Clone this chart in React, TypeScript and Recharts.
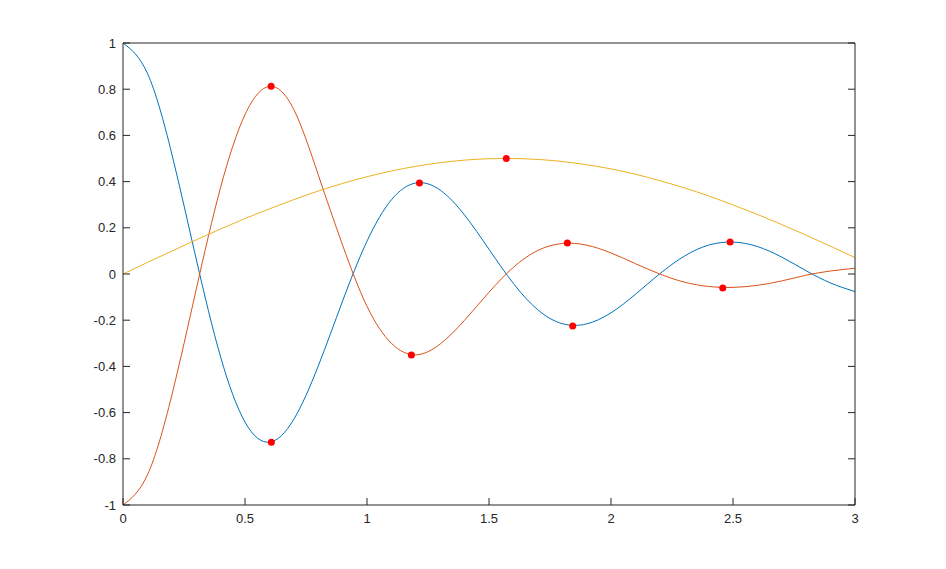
import React from "react";
import {
  ComposedChart,
  Line,
  Scatter,
  XAxis,
  YAxis,
} from "recharts";

// sample positions along x (read every 0.1)
const xs = [
  0, 0.1, 0.2, 0.3, 0.4, 0.5, 0.6, 0.7, 0.8, 0.9, 1.0, 1.1, 1.2, 1.3, 1.4, 1.5,
  1.6, 1.7, 1.8, 1.9, 2.0, 2.1, 2.2, 2.3, 2.4, 2.5, 2.6, 2.7, 2.8, 2.9, 3.0,
];

const blueY = [
  1.0, 0.869, 0.52, 0.065, -0.359, -0.641, -0.728, -0.629, -0.399, -0.117,
  0.142, 0.321, 0.394, 0.363, 0.255, 0.107, -0.041, -0.155, -0.215, -0.216,
  -0.168, -0.088, 0.001, 0.077, 0.125, 0.138, 0.119, 0.073, 0.014, -0.039,
  -0.076,
];

const orangeY = [
  -1.0, -0.87, -0.525, -0.067, 0.375, 0.69, 0.812, 0.712, 0.43, 0.125, -0.14,
  -0.3, -0.35, -0.303, -0.2, -0.079, 0.029, 0.102, 0.132, 0.125, 0.091, 0.045,
  0.0, -0.035, -0.054, -0.058, -0.049, -0.03, -0.005, 0.013, 0.025,
];

const yellowY = [
  0, 0.05, 0.099, 0.148, 0.195, 0.24, 0.282, 0.322, 0.359, 0.392, 0.421, 0.446,
  0.466, 0.482, 0.493, 0.499, 0.5, 0.496, 0.487, 0.473, 0.455, 0.432, 0.404,
  0.373, 0.338, 0.299, 0.258, 0.214, 0.168, 0.12, 0.071,
];

// red extremum markers
const markerX = [0.608, 1.215, 1.843, 2.488, 0.607, 1.182, 1.821, 2.458, 1.571];
const markerY = [-0.728, 0.394, -0.225, 0.138, 0.813, -0.351, 0.134, -0.061, 0.5];

const xTicks = [0, 0.5, 1, 1.5, 2, 2.5, 3];
const yTicks = [-1, -0.8, -0.6, -0.4, -0.2, 0, 0.2, 0.4, 0.6, 0.8, 1];

const toSeries = (ys: number[]) => xs.map((x, i) => ({ x, y: ys[i] }));
const markers = markerX.map((x, i) => ({ x, y: markerY[i] }));

const axisColor = "#262626";
const fontFamily = "'Liberation Sans', Arial, sans-serif";
const TICK_LEN = 7;
const X_GAP = 9;
const Y_GAP = 7;

// bottom label plus an inward tick mark going up from the axis
const BottomTick = (props: any) => {
  const { x, y, payload } = props;
  const axisY = y - X_GAP;
  return (
    <g>
      <line x1={x} y1={axisY} x2={x} y2={axisY - TICK_LEN} stroke={axisColor} />
      <text
        x={x}
        y={y}
        dy="0.71em"
        textAnchor="middle"
        fill={axisColor}
        fontSize={13}
        fontFamily={fontFamily}
      >
        {String(payload.value)}
      </text>
    </g>
  );
};

// left label plus an inward tick mark going right from the axis
const LeftTick = (props: any) => {
  const { x, y, payload } = props;
  const axisX = x + Y_GAP;
  return (
    <g>
      <line x1={axisX} y1={y} x2={axisX + TICK_LEN} y2={y} stroke={axisColor} />
      <text
        x={x}
        y={y}
        dy="0.355em"
        textAnchor="end"
        fill={axisColor}
        fontSize={13}
        fontFamily={fontFamily}
      >
        {String(payload.value)}
      </text>
    </g>
  );
};

const NoLabel = () => <g />;

const Dot = (props: any) => (
  <circle cx={props.cx} cy={props.cy} r={3.5} fill="#ff0000" />
);

export default function App() {
  return (
    <div style={{ width: 930, height: 553, background: "#fff" }}>
      <ComposedChart
        width={930}
        height={553}
        margin={{ top: 35, right: 83, bottom: 26, left: 75 }}
      >
        <XAxis
          dataKey="x"
          type="number"
          domain={[0, 3]}
          ticks={xTicks}
          allowDataOverflow
          height={30}
          tickLine={false}
          tickSize={0}
          tickMargin={X_GAP}
          tick={<BottomTick />}
          stroke={axisColor}
        />
        <XAxis
          xAxisId="top"
          type="number"
          orientation="top"
          mirror
          domain={[0, 3]}
          ticks={xTicks}
          allowDataOverflow
          tick={NoLabel}
          tickLine={{ stroke: axisColor }}
          tickSize={TICK_LEN}
          stroke={axisColor}
        />
        <YAxis
          type="number"
          domain={[-1, 1]}
          ticks={yTicks}
          allowDataOverflow
          width={40}
          tickLine={false}
          tickSize={0}
          tickMargin={Y_GAP}
          tick={<LeftTick />}
          stroke={axisColor}
        />
        <YAxis
          yAxisId="right"
          type="number"
          orientation="right"
          mirror
          domain={[-1, 1]}
          ticks={yTicks}
          allowDataOverflow
          tick={NoLabel}
          tickLine={{ stroke: axisColor }}
          tickSize={TICK_LEN}
          stroke={axisColor}
        />
        <Line
          data={toSeries(blueY)}
          dataKey="y"
          type="natural"
          stroke="#0072BD"
          strokeWidth={1}
          dot={false}
          isAnimationActive={false}
        />
        <Line
          data={toSeries(orangeY)}
          dataKey="y"
          type="natural"
          stroke="#D95319"
          strokeWidth={1}
          dot={false}
          isAnimationActive={false}
        />
        <Line
          data={toSeries(yellowY)}
          dataKey="y"
          type="natural"
          stroke="#EDB120"
          strokeWidth={1}
          dot={false}
          isAnimationActive={false}
        />
        <Scatter
          data={markers}
          dataKey="y"
          shape={<Dot />}
          isAnimationActive={false}
        />
      </ComposedChart>
    </div>
  );
}
